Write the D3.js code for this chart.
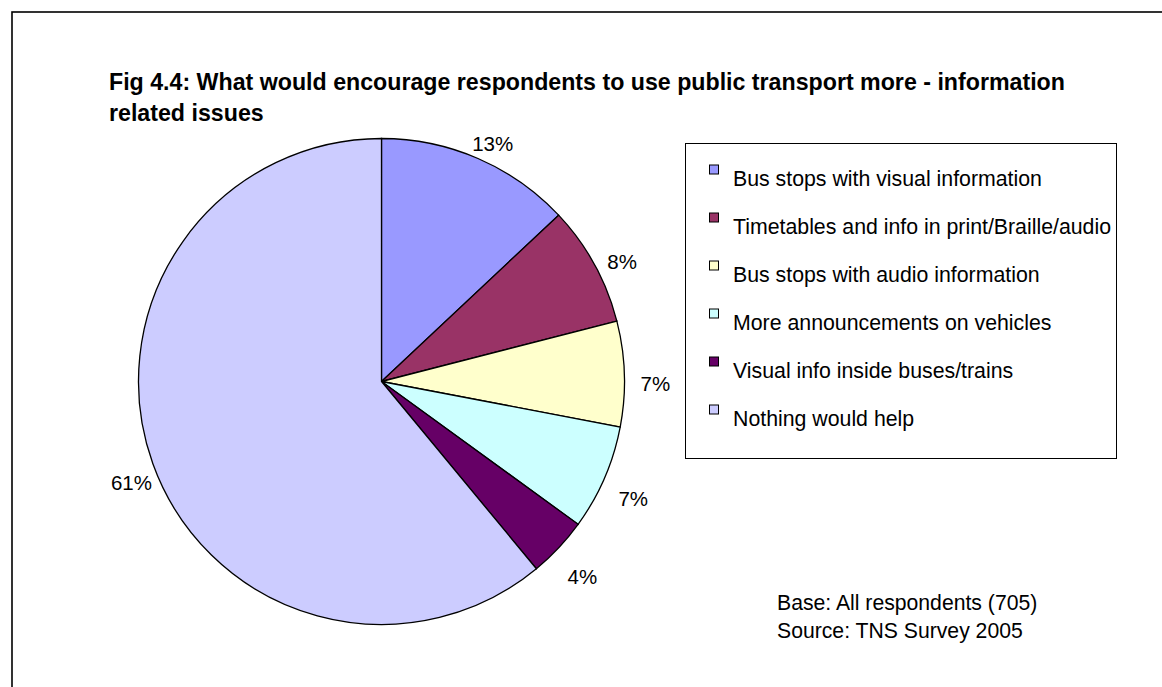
<!DOCTYPE html>
<html>
<head>
<meta charset="utf-8">
<script src="https://cdn.jsdelivr.net/npm/d3@7"></script>
<style>
  html, body { margin: 0; padding: 0; background: #fff; }
  svg { display: block; }
  text { font-family: "Liberation Sans", Arial, sans-serif; fill: #000; }
</style>
</head>
<body>
<svg id="chart" width="1162" height="687"></svg>
<script>
const titleLines = ["Fig 4.4: What would encourage respondents to use public transport more - information", "related issues"];
const categories = [
  "Bus stops with visual information",
  "Timetables and info in print/Braille/audio",
  "Bus stops with audio information",
  "More announcements on vehicles",
  "Visual info inside buses/trains",
  "Nothing would help"
];
const values = [13, 8, 7, 7, 4, 61];
const colors = ["#9999FF", "#993366", "#FFFFCC", "#CCFFFF", "#660066", "#CCCCFF"];
const notes = ["Base: All respondents (705)", "Source: TNS Survey 2005"];

const svg = d3.select("#chart");

// outer frame
svg.append("rect").attr("x", 12).attr("y", 12).attr("width", 1300).attr("height", 800)
  .attr("fill", "none").attr("stroke", "#000").attr("stroke-width", 1.6);

// title
svg.append("g").selectAll("text").data(titleLines).join("text")
  .attr("x", 109).attr("y", (d, i) => 90 + i * 31)
  .attr("font-size", 23.2).attr("font-weight", "bold")
  .text(d => d);

// pie
const cx = 381.5, cy = 381.5, R = 243;
const data = categories.map((c, i) => ({ name: c, value: values[i], color: colors[i] }));
const pie = d3.pie().value(d => d.value).sort(null);
const arcs = pie(data);
const arc = d3.arc().innerRadius(0).outerRadius(R);
const g = svg.append("g").attr("transform", `translate(${cx},${cy})`);
g.selectAll("path").data(arcs).join("path")
  .attr("d", arc).attr("fill", d => d.data.color)
  .attr("stroke", "#000").attr("stroke-width", 1.3);

// labels
const labelR = 270;
g.selectAll("text.lbl").data(arcs).join("text").attr("class", "lbl")
  .attr("x", d => { const a = (d.startAngle + d.endAngle) / 2; return labelR * Math.sin(a) + 4; })
  .attr("y", d => { const a = (d.startAngle + d.endAngle) / 2; return -labelR * Math.cos(a) + 10; })
  .attr("text-anchor", "middle").attr("dominant-baseline", "central")
  .attr("font-size", 20.5)
  .text(d => d.data.value + "%");

// legend
const lg = svg.append("g");
lg.append("rect").attr("x", 685.5).attr("y", 143.5).attr("width", 431).attr("height", 315)
  .attr("fill", "#fff").attr("stroke", "#000").attr("stroke-width", 1);
const items = lg.selectAll("g.item").data(data).join("g").attr("class", "item")
  .attr("transform", (d, i) => `translate(0,${185.5 + i * 48})`);
items.append("rect").attr("x", 709.5).attr("y", -20.5).attr("width", 9).attr("height", 9)
  .attr("fill", d => d.color).attr("stroke", "#000").attr("stroke-width", 1);
items.append("text").attr("x", 733).attr("y", 0).attr("font-size", 21.3).text(d => d.name);

// notes
svg.append("g").selectAll("text").data(notes).join("text")
  .attr("x", 777).attr("y", (d, i) => 610 + i * 28)
  .attr("font-size", 21.2).text(d => d);
</script>
</body>
</html>
